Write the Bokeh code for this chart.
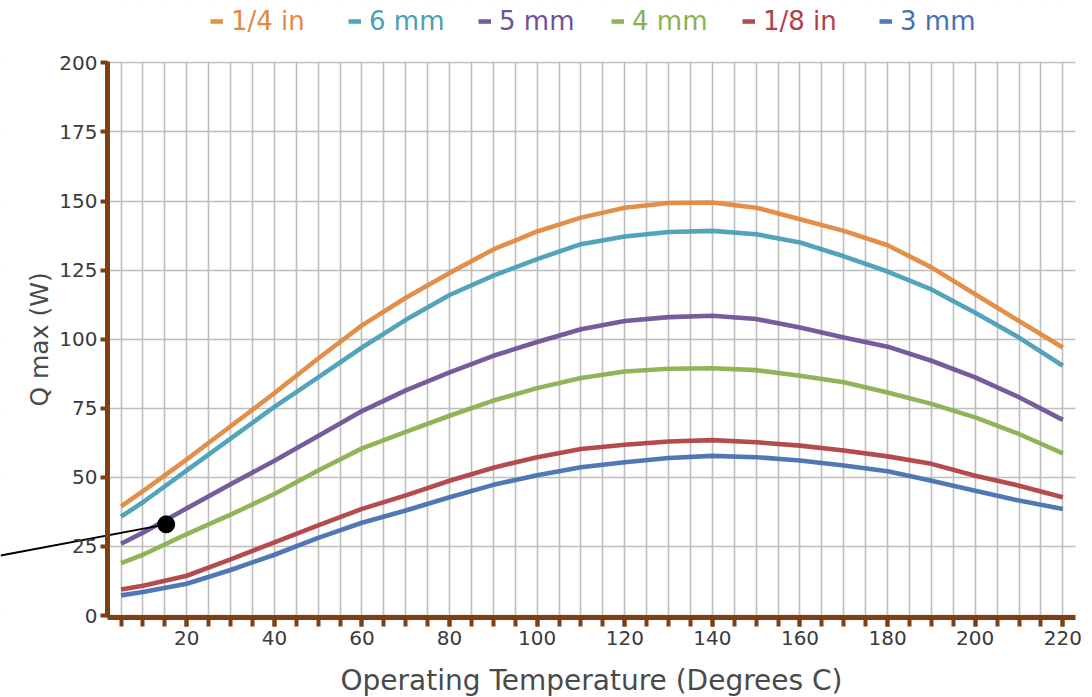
from bokeh.plotting import figure
from bokeh.models import SingleIntervalTicker, Legend, LegendItem, Range1d, BoxAnnotation, Label
from bokeh.embed import file_html
from bokeh.resources import INLINE

# ---- data ----
temps = [5, 10, 20, 30, 40, 50, 60, 70, 80, 90, 100, 110, 120, 130, 140,
         150, 160, 170, 180, 190, 200, 210, 220]

q_quarter_in = [39.5, 45, 56.5, 68.5, 80.5, 93, 105, 115, 124, 132.5, 139, 144,
                147.6, 149.3, 149.5, 147.6, 143.4, 139.2, 134, 126, 116.3, 106.6, 97]
q_6mm = [35.8, 41, 52.5, 64, 75.5, 86.2, 97, 107, 116, 123, 129, 134.4,
         137.2, 138.8, 139.2, 138, 135, 130, 124.5, 118, 109.6, 100.6, 90.4]
q_5mm = [26, 30, 38.8, 47.5, 56, 65, 74, 81.5, 88, 94, 99, 103.6,
         106.6, 108, 108.5, 107.3, 104.2, 100.6, 97.3, 92.2, 86.2, 79, 70.8]
q_4mm = [19, 22, 29.5, 36.5, 44, 52.5, 60.5, 66.5, 72.3, 77.8, 82.3, 86,
         88.3, 89.3, 89.5, 88.8, 86.8, 84.4, 80.7, 76.6, 71.7, 65.7, 58.7]
q_eighth_in = [9.4, 10.8, 14.4, 20.3, 26.5, 32.6, 38.6, 43.5, 48.8, 53.5, 57.3, 60.3,
               61.8, 63, 63.5, 62.7, 61.5, 59.7, 57.6, 54.9, 50.6, 47, 42.8]
q_3mm = [7.3, 8.5, 11.5, 16.5, 22, 28.1, 33.6, 38, 42.8, 47.3, 50.8, 53.7,
         55.5, 57, 57.8, 57.3, 56.1, 54.3, 52.2, 48.8, 45.2, 41.6, 38.6]

series_names = ["1/4 in", "6 mm", "5 mm", "4 mm", "1/8 in", "3 mm"]
series_values = [q_quarter_in, q_6mm, q_5mm, q_4mm, q_eighth_in, q_3mm]
series_colors = ["#E3893F", "#4A9FB6", "#6F5398", "#8AB150", "#AF4146", "#4870B0"]

x_title = "Operating Temperature (Degrees C)"
y_title = "Q max (W)"

# pointer annotation (data coords): dot on the 5 mm curve, line running off to the left edge
pointer_x = [-22.5, 15.3]
pointer_y = [21.7, 33.0]

x_ticks_interval = 20
x_grid_interval = 5
y_ticks_interval = 25

# axis extents (data) and the full-canvas view ranges around them
X0, X1 = 1.9, 222.9          # x axis runs over this
Y0, Y1 = -0.7, 200.5         # y axis runs over this
VX0, VX1 = -22.53, 226.78    # whole canvas width
VY0, VY1 = -29.65, 222.57    # whole canvas height

BROWN = "#7E3F14"

p = figure(width=1092, height=697, output_backend="svg", toolbar_location=None,
           title=None, x_range=Range1d(VX0, VX1), y_range=Range1d(VY0, VY1),
           min_border=0)
p.outline_line_color = None

# grids
p.xgrid.ticker = SingleIntervalTicker(interval=x_grid_interval)
p.ygrid.ticker = SingleIntervalTicker(interval=y_ticks_interval)
for g in (p.xgrid, p.ygrid):
    g.grid_line_color = "#BDBDBD"
    g.grid_line_width = 1.6
# white masks outside the plotting area, so grid lines stop at the axes
for l, r, b, t in [(VX0, X0, VY0, VY1), (X1, VX1, VY0, VY1),
                   (VX0, VX1, Y1, VY1), (VX0, VX1, VY0, Y0)]:
    p.add_layout(BoxAnnotation(left=l, right=r, bottom=b, top=t, fill_color="white",
                               fill_alpha=1, line_color=None, level="underlay"))

# axes drawn at fixed positions inside the (full-canvas) frame
p.xaxis.ticker = SingleIntervalTicker(interval=x_ticks_interval, num_minor_ticks=4)
p.xaxis.bounds = (X0, X1)
p.xaxis.fixed_location = Y0
p.yaxis.ticker = SingleIntervalTicker(interval=y_ticks_interval, num_minor_ticks=0)
p.yaxis.bounds = (Y0, Y1)
p.yaxis.fixed_location = X0
for ax in (p.xaxis, p.yaxis):
    ax.axis_line_color = BROWN
    ax.axis_line_width = 5
    ax.major_tick_line_color = BROWN
    ax.minor_tick_line_color = BROWN
    ax.major_tick_line_width = 4
    ax.minor_tick_line_width = 4
    ax.major_tick_in = 0
    ax.minor_tick_in = 0
    ax.major_label_text_font = "DejaVu Sans"
    ax.major_label_text_font_size = "20px"
    ax.major_label_text_color = "#3a3a3a"
    ax.axis_label_text_font = "DejaVu Sans"
    ax.axis_label_text_font_style = "normal"
    ax.axis_label_text_color = "#4a4a4a"

p.xaxis.major_tick_out = 9
p.xaxis.minor_tick_out = 9
p.xaxis.major_label_standoff = 5

p.yaxis.major_tick_out = 7
p.yaxis.minor_tick_out = 0
p.yaxis.major_label_standoff = 3
p.yaxis.axis_label_standoff = 2
p.yaxis.axis_label_text_font_size = "25px"
p.yaxis.axis_label = y_title

# x title centred under the axis span
p.add_layout(Label(x=(X0 + X1) / 2, y=-23.6, text=x_title, text_align="center",
                   text_baseline="middle", text_font="DejaVu Sans",
                   text_font_size="28px", text_color="#4a4a4a"))

renderers = []
for vals, col in zip(series_values, series_colors):
    renderers.append(p.line(temps, vals, line_color=col, line_width=4.6, line_alpha=0.95,
                            line_join="round"))

# pointer
p.line(pointer_x, pointer_y, line_color="black", line_width=2)
p.scatter([pointer_x[1]], [pointer_y[1]], size=17, color="black")

# legends: one per series so each label carries its series colour
legend_x = [210, 348, 478, 611, 742, 879]
for name, r, col, lx in zip(series_names, renderers, series_colors, legend_x):
    lg = Legend(items=[LegendItem(label=name, renderers=[r])],
                location=(lx, 661), orientation="horizontal",
                label_text_color=col, label_text_font="DejaVu Sans",
                label_text_font_size="26px", glyph_width=13, glyph_height=24,
                label_height=24, label_standoff=8, padding=0, margin=0,
                border_line_color=None, background_fill_alpha=0)
    p.add_layout(lg, "center")

open("out.html", "w").write(file_html(p, INLINE))
